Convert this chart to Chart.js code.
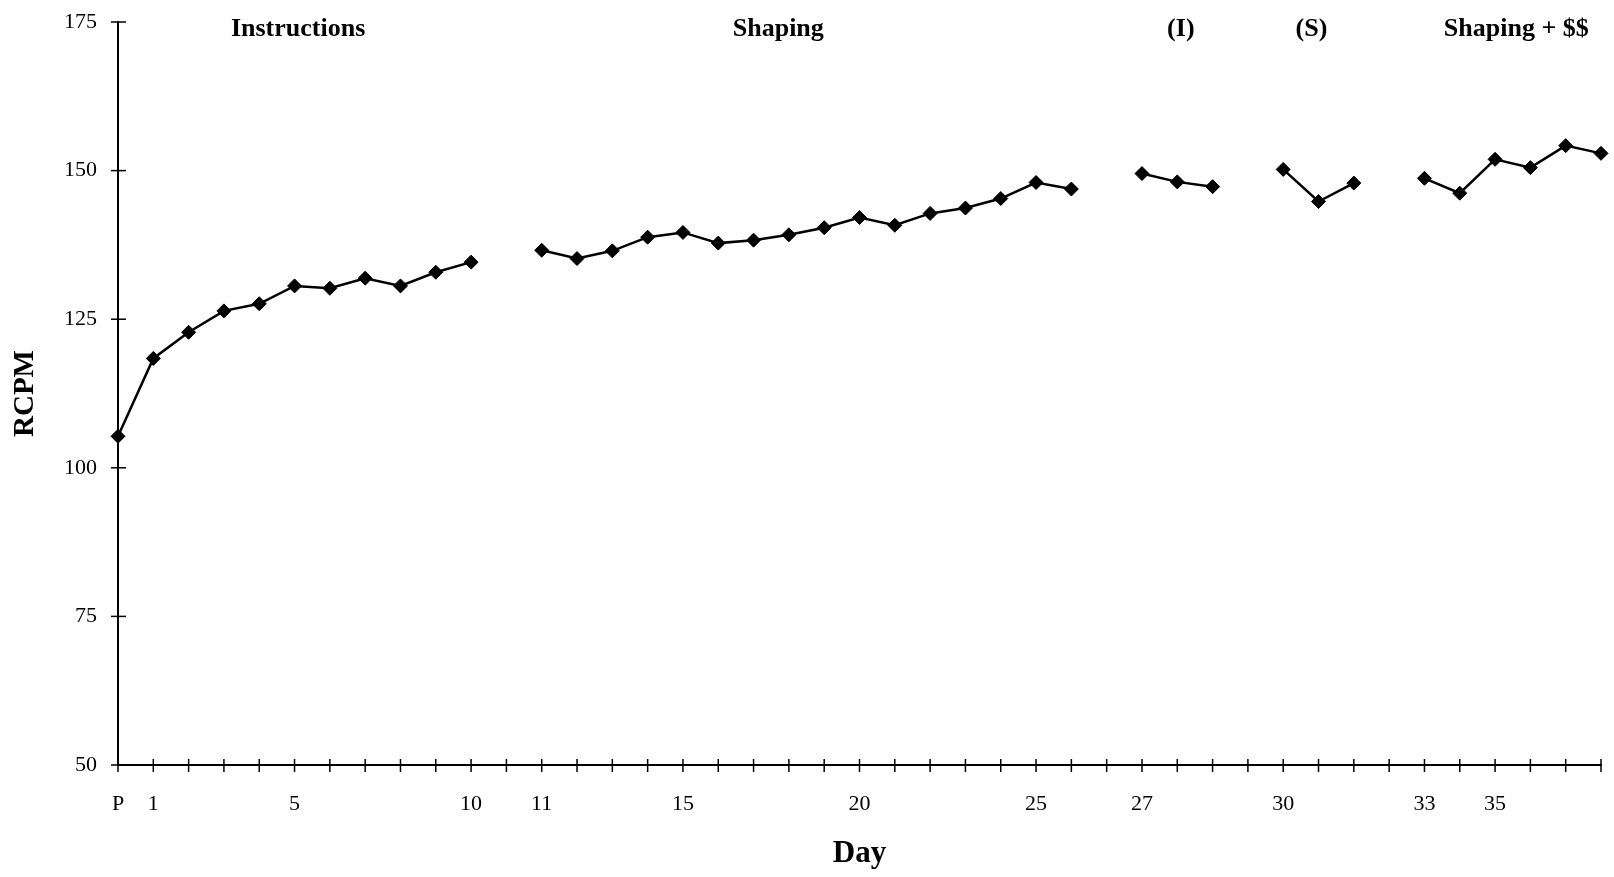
<!DOCTYPE html>
<html>
<head>
<meta charset="utf-8">
<script src="https://cdn.jsdelivr.net/npm/chart.js@4.4.1/dist/chart.umd.min.js"></script>
<style>
  html, body { margin: 0; padding: 0; background: #fff; }
  #wrap { width: 1614px; height: 877px; }
</style>
</head>
<body>
<div id="wrap"><canvas id="rcpmChart"></canvas></div>
<script>
// RCPM by day

// x slots, '' = break between phases
const dayLabels = [
  'P', '1', '2', '3', '4', '5', '6', '7', '8', '9', '10',
  '',
  '11', '12', '13', '14', '15', '16', '17', '18', '19', '20', '21', '22', '23', '24', '25', '26',
  '',
  '27', '28', '29',
  '',
  '30', '31', '32',
  '',
  '33', '34', '35', '36', '37', '38'
];

// only these days get a printed label
const shownLabels = ['P', '1', '5', '10', '11', '15', '20', '25', '27', '30', '33', '35'];

const rcpmValues = [
  105.3, 118.4, 122.8, 126.4, 127.6, 130.6, 130.2, 131.9, 130.6, 132.9, 134.6,
  null,
  136.6, 135.2, 136.5, 138.8, 139.6, 137.8, 138.3, 139.2, 140.4, 142.1, 140.8, 142.8, 143.7, 145.3, 148.0, 146.9,
  null,
  149.5, 148.1, 147.3,
  null,
  150.2, 144.8, 147.9,
  null,
  148.7, 146.2, 151.9, 150.5, 154.2, 152.9
];

const yTicks = [50, 75, 100, 125, 150, 175];

const phaseNames = ['Instructions', 'Shaping', '(I)', '(S)', 'Shaping + $$'];

const serif = '"Liberation Serif", "Times New Roman", serif';

// ticks crossing the axis lines
const crossTicks = {
  id: 'crossTicks',
  afterDraw(chart) {
    const { ctx, scales: { x, y } } = chart;
    ctx.save();
    ctx.strokeStyle = '#000';
    ctx.lineWidth = 1.5;
    x.ticks.forEach((t, i) => {
      const px = x.getPixelForTick(i);
      ctx.beginPath();
      ctx.moveTo(px, x.top - 6);
      ctx.lineTo(px, x.top + 7);
      ctx.stroke();
    });
    y.ticks.forEach((t, i) => {
      const py = y.getPixelForTick(i);
      ctx.beginPath();
      ctx.moveTo(y.right - 7, py);
      ctx.lineTo(y.right + 8, py);
      ctx.stroke();
    });
    ctx.restore();
  }
};

// phase names along the top
const phaseLabels = {
  id: 'phaseLabels',
  afterDraw(chart, args, opts) {
    const { ctx, chartArea, scales: { x } } = chart;
    ctx.save();
    ctx.font = 'bold 26px ' + serif;
    ctx.fillStyle = '#000';
    ctx.textAlign = 'center';
    ctx.textBaseline = 'middle';
    phaseNames.forEach((name, i) => {
      ctx.fillText(name, x.getPixelForValue(opts.at[i]), chartArea.top + 7);
    });
    ctx.restore();
  }
};

// fixed axis boxes, no extra label padding
const fixBox = (w, h) => (scale) => {
  if (w) scale.width = w;
  if (h) scale.height = h;
  scale.paddingTop = 0;
  scale.paddingBottom = 0;
  scale.paddingLeft = 0;
  scale.paddingRight = 0;
};

window.addEventListener('DOMContentLoaded', () => {
  const canvas = document.getElementById('rcpmChart');

  new Chart(canvas, {
    type: 'line',
    data: {
      labels: dayLabels,
      datasets: [{
        label: 'RCPM',
        data: rcpmValues,
        borderColor: '#000',
        borderWidth: 2.5,
        backgroundColor: '#000',
        pointStyle: 'rectRot',
        pointRadius: 7,
        pointBorderWidth: 1,
        pointBackgroundColor: '#000',
        pointBorderColor: '#000',
        spanGaps: false,
        tension: 0,
        clip: false
      }]
    },
    options: {
      responsive: true,
      maintainAspectRatio: false,
      animation: false,
      layout: {
        autoPadding: false,
        padding: { top: 22, right: 13, left: 0, bottom: 0 }
      },
      plugins: {
        legend: { display: false },
        tooltip: { enabled: false },
        phaseLabels: { at: [5.1, 18.7, 30.1, 33.8, 39.6] }
      },
      scales: {
        x: {
          offset: false,
          grid: { display: true, drawOnChartArea: false, drawTicks: false, color: 'transparent' },
          border: { display: true, color: '#000', width: 2 },
          ticks: {
            autoSkip: false,
            maxRotation: 0,
            padding: 26,
            color: '#000',
            font: { family: serif, size: 22 },
            callback: function (value) {
              const lab = this.getLabelForValue(value);
              return shownLabels.includes(lab) ? lab : '';
            }
          },
          title: {
            display: true,
            text: 'Day',
            color: '#000',
            font: { family: serif, size: 31, weight: 'bold' },
            padding: { top: 0, bottom: 4 }
          },
          afterFit: fixBox(0, 112)
        },
        y: {
          min: 50,
          max: 175,
          afterBuildTicks: (scale) => {
            scale.ticks = yTicks.map(v => ({ value: v }));
          },
          grid: { display: true, drawOnChartArea: false, drawTicks: false, color: 'transparent' },
          border: { display: true, color: '#000', width: 2 },
          ticks: {
            padding: 21,
            color: '#000',
            font: { family: serif, size: 22 }
          },
          title: {
            display: true,
            text: 'RCPM',
            color: '#000',
            font: { family: serif, size: 29, weight: 'bold' },
            padding: { top: 8, bottom: 0 }
          },
          afterFit: fixBox(118, 0)
        }
      }
    },
    plugins: [crossTicks, phaseLabels]
  });
});
</script>
</body>
</html>
